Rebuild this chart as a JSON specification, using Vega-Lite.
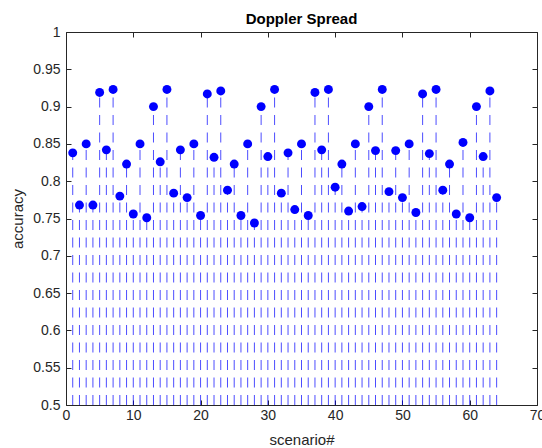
{
  "$schema": "https://vega.github.io/schema/vega-lite/v6.json",
  "width": 471,
  "height": 373,
  "autosize": {"type": "none"},
  "padding": {"left": 66, "top": 32, "right": 5, "bottom": 43},
  "background": "white",
  "config": {
    "font": "Liberation Sans",
    "view": {"stroke": "#262626", "strokeWidth": 1},
    "axis": {
      "grid": false,
      "domain": false,
      "tickColor": "#262626",
      "tickSize": -5,
      "tickWidth": 1,
      "labelColor": "#262626",
      "labelFont": "Liberation Sans",
      "labelFontSize": 14,
      "titleColor": "#262626",
      "titleFont": "Liberation Sans",
      "titleFontSize": 15,
      "titleFontWeight": "normal"
    },
    "title": {"font": "Liberation Sans", "fontSize": 15, "fontWeight": "bold", "color": "#000000"}
  },
  "title": {"text": "Doppler Spread", "anchor": "middle", "offset": -2},
  "data": {
    "values": [
      {"scenario": 1, "accuracy": 0.838},
      {"scenario": 2, "accuracy": 0.768},
      {"scenario": 3, "accuracy": 0.850},
      {"scenario": 4, "accuracy": 0.768},
      {"scenario": 5, "accuracy": 0.919},
      {"scenario": 6, "accuracy": 0.842},
      {"scenario": 7, "accuracy": 0.923},
      {"scenario": 8, "accuracy": 0.780},
      {"scenario": 9, "accuracy": 0.823},
      {"scenario": 10, "accuracy": 0.756},
      {"scenario": 11, "accuracy": 0.850},
      {"scenario": 12, "accuracy": 0.751},
      {"scenario": 13, "accuracy": 0.900},
      {"scenario": 14, "accuracy": 0.826},
      {"scenario": 15, "accuracy": 0.923},
      {"scenario": 16, "accuracy": 0.784},
      {"scenario": 17, "accuracy": 0.842},
      {"scenario": 18, "accuracy": 0.778},
      {"scenario": 19, "accuracy": 0.850},
      {"scenario": 20, "accuracy": 0.754},
      {"scenario": 21, "accuracy": 0.917},
      {"scenario": 22, "accuracy": 0.832},
      {"scenario": 23, "accuracy": 0.921},
      {"scenario": 24, "accuracy": 0.788},
      {"scenario": 25, "accuracy": 0.823},
      {"scenario": 26, "accuracy": 0.754},
      {"scenario": 27, "accuracy": 0.850},
      {"scenario": 28, "accuracy": 0.744},
      {"scenario": 29, "accuracy": 0.900},
      {"scenario": 30, "accuracy": 0.833},
      {"scenario": 31, "accuracy": 0.923},
      {"scenario": 32, "accuracy": 0.784},
      {"scenario": 33, "accuracy": 0.838},
      {"scenario": 34, "accuracy": 0.762},
      {"scenario": 35, "accuracy": 0.850},
      {"scenario": 36, "accuracy": 0.754},
      {"scenario": 37, "accuracy": 0.919},
      {"scenario": 38, "accuracy": 0.842},
      {"scenario": 39, "accuracy": 0.923},
      {"scenario": 40, "accuracy": 0.792},
      {"scenario": 41, "accuracy": 0.823},
      {"scenario": 42, "accuracy": 0.760},
      {"scenario": 43, "accuracy": 0.850},
      {"scenario": 44, "accuracy": 0.766},
      {"scenario": 45, "accuracy": 0.900},
      {"scenario": 46, "accuracy": 0.841},
      {"scenario": 47, "accuracy": 0.923},
      {"scenario": 48, "accuracy": 0.786},
      {"scenario": 49, "accuracy": 0.841},
      {"scenario": 50, "accuracy": 0.778},
      {"scenario": 51, "accuracy": 0.850},
      {"scenario": 52, "accuracy": 0.758},
      {"scenario": 53, "accuracy": 0.917},
      {"scenario": 54, "accuracy": 0.837},
      {"scenario": 55, "accuracy": 0.923},
      {"scenario": 56, "accuracy": 0.788},
      {"scenario": 57, "accuracy": 0.823},
      {"scenario": 58, "accuracy": 0.756},
      {"scenario": 59, "accuracy": 0.852},
      {"scenario": 60, "accuracy": 0.751},
      {"scenario": 61, "accuracy": 0.900},
      {"scenario": 62, "accuracy": 0.833},
      {"scenario": 63, "accuracy": 0.921},
      {"scenario": 64, "accuracy": 0.778}
    ]
  },
  "layer": [
    {
      "mark": {"type": "rule", "color": "#0000ff", "strokeWidth": 1, "opacity": 0.7, "strokeDash": [10, 7.5]},
      "encoding": {
        "x": {
          "field": "scenario", "type": "quantitative",
          "scale": {"domain": [0, 70], "nice": false, "zero": false},
          "axis": null
        },
        "y": {
          "datum": 0.5, "type": "quantitative",
          "scale": {"domain": [0.5, 1], "nice": false, "zero": false},
          "axis": null
        },
        "y2": {"field": "accuracy", "type": "quantitative"}
      }
    },
    {
      "mark": {"type": "circle", "color": "#0000ff", "opacity": 1, "size": 80},
      "encoding": {
        "x": {
          "field": "scenario", "type": "quantitative",
          "scale": {"domain": [0, 70], "nice": false, "zero": false},
          "axis": {"orient": "bottom", "values": [0, 10, 20, 30, 40, 50, 60, 70], "title": "scenario#", "labelPadding": 8, "titleY": 39, "titleBaseline": "alphabetic", "labelFlush": false}
        },
        "y": {
          "field": "accuracy", "type": "quantitative",
          "scale": {"domain": [0.5, 1], "nice": false, "zero": false},
          "axis": {"orient": "left", "values": [0.5, 0.55, 0.6, 0.65, 0.7, 0.75, 0.8, 0.85, 0.9, 0.95, 1], "format": "~g", "title": "accuracy", "labelPadding": 11, "titleX": -44, "titleBaseline": "alphabetic", "labelFlush": false}
        }
      }
    },
    {
      "mark": {"type": "circle", "opacity": 0, "size": 1},
      "encoding": {
        "x": {
          "field": "scenario", "type": "quantitative",
          "scale": {"domain": [0, 70], "nice": false, "zero": false},
          "axis": {"orient": "top", "values": [0, 10, 20, 30, 40, 50, 60, 70], "labels": false, "title": null}
        },
        "y": {
          "field": "accuracy", "type": "quantitative",
          "scale": {"domain": [0.5, 1], "nice": false, "zero": false},
          "axis": {"orient": "right", "values": [0.5, 0.55, 0.6, 0.65, 0.7, 0.75, 0.8, 0.85, 0.9, 0.95, 1], "labels": false, "title": null}
        }
      }
    }
  ],
  "resolve": {"axis": {"x": "independent", "y": "independent"}}
}
